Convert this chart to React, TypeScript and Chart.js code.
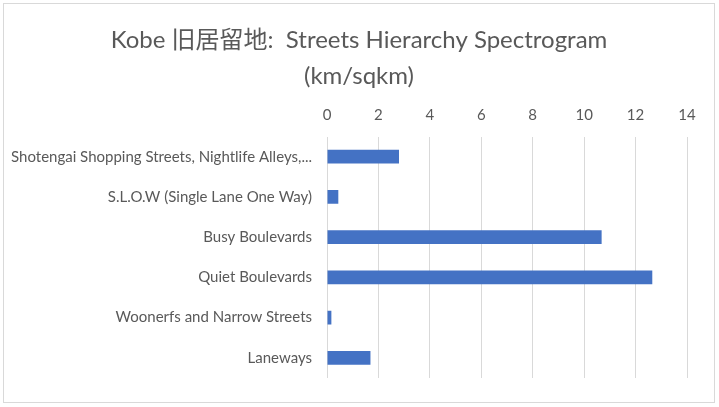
import React, { useEffect, useRef } from 'react';
import { Chart, registerables } from 'chart.js';

Chart.register(...registerables);

const categories = [
  'Shotengai Shopping Streets, Nightlife Alleys,...',
  'S.L.O.W (Single Lane One Way)',
  'Busy Boulevards',
  'Quiet Boulevards',
  'Woonerfs and Narrow Streets',
  'Laneways',
];
const densities = [2.8, 0.44, 10.68, 12.65, 0.17, 1.69];
const titleLines = ['Kobe 旧居留地:  Streets Hierarchy Spectrogram', '(km/sqkm)'];

const FONT = "Lato, 'Noto Sans CJK JP', sans-serif";
const TEXT = '#595959';
const GRID = '#d9d9d9';

// center the title on the whole canvas, not on the padded layout box
const centerTitle = {
  id: 'centerTitle',
  afterLayout(chart: any) {
    if (chart.titleBlock) {
      chart.titleBlock.left = 0;
      chart.titleBlock.right = chart.width;
      chart.titleBlock.width = chart.width;
    }
  },
};

export default function App() {
  const canvasRef = useRef<HTMLCanvasElement | null>(null);

  useEffect(() => {
    if (!canvasRef.current) return;
    const chart = new Chart(canvasRef.current, {
      type: 'bar',
      data: {
        labels: categories,
        datasets: [
          {
            label: 'km/sqkm',
            data: densities,
            backgroundColor: '#4472c4',
            borderWidth: 0,
            categoryPercentage: 1,
            barPercentage: 0.34,
          },
        ],
      },
      options: {
        indexAxis: 'y',
        animation: false,
        responsive: false,
        devicePixelRatio: 1,
        layout: { padding: { top: 6, left: 4, right: 27, bottom: 19 } },
        plugins: {
          legend: { display: false },
          tooltip: { enabled: false },
          title: {
            display: true,
            text: titleLines,
            color: TEXT,
            font: { family: FONT, size: 24, weight: 'normal', lineHeight: 1.47 },
            padding: { top: 13, bottom: 1 },
          },
        },
        scales: {
          x: {
            position: 'top',
            min: 0,
            max: 14,
            ticks: { stepSize: 2, color: TEXT, padding: 12, font: { family: FONT, size: 15 } },
            grid: { color: GRID, lineWidth: 1, drawTicks: false },
            border: { display: false },
          },
          y: {
            ticks: { color: TEXT, padding: 15, font: { family: FONT, size: 15 } },
            grid: { display: false, drawTicks: false },
            border: { display: false },
            afterFit: (scale: any) => {
              scale.width = 319;
            },
          },
        },
      },
      plugins: [centerTitle],
    });
    return () => chart.destroy();
  }, []);

  return (
    <div
      style={{
        position: 'absolute',
        left: 0,
        top: 0,
        width: 719,
        height: 407,
        background: '#fff',
      }}
    >
      <div
        style={{
          position: 'absolute',
          left: 3,
          top: 3,
          width: 712,
          height: 400,
          boxSizing: 'border-box',
          border: `1px solid ${GRID}`,
        }}
      >
        <canvas ref={canvasRef} width={710} height={398} style={{ display: 'block' }} />
      </div>
    </div>
  );
}
